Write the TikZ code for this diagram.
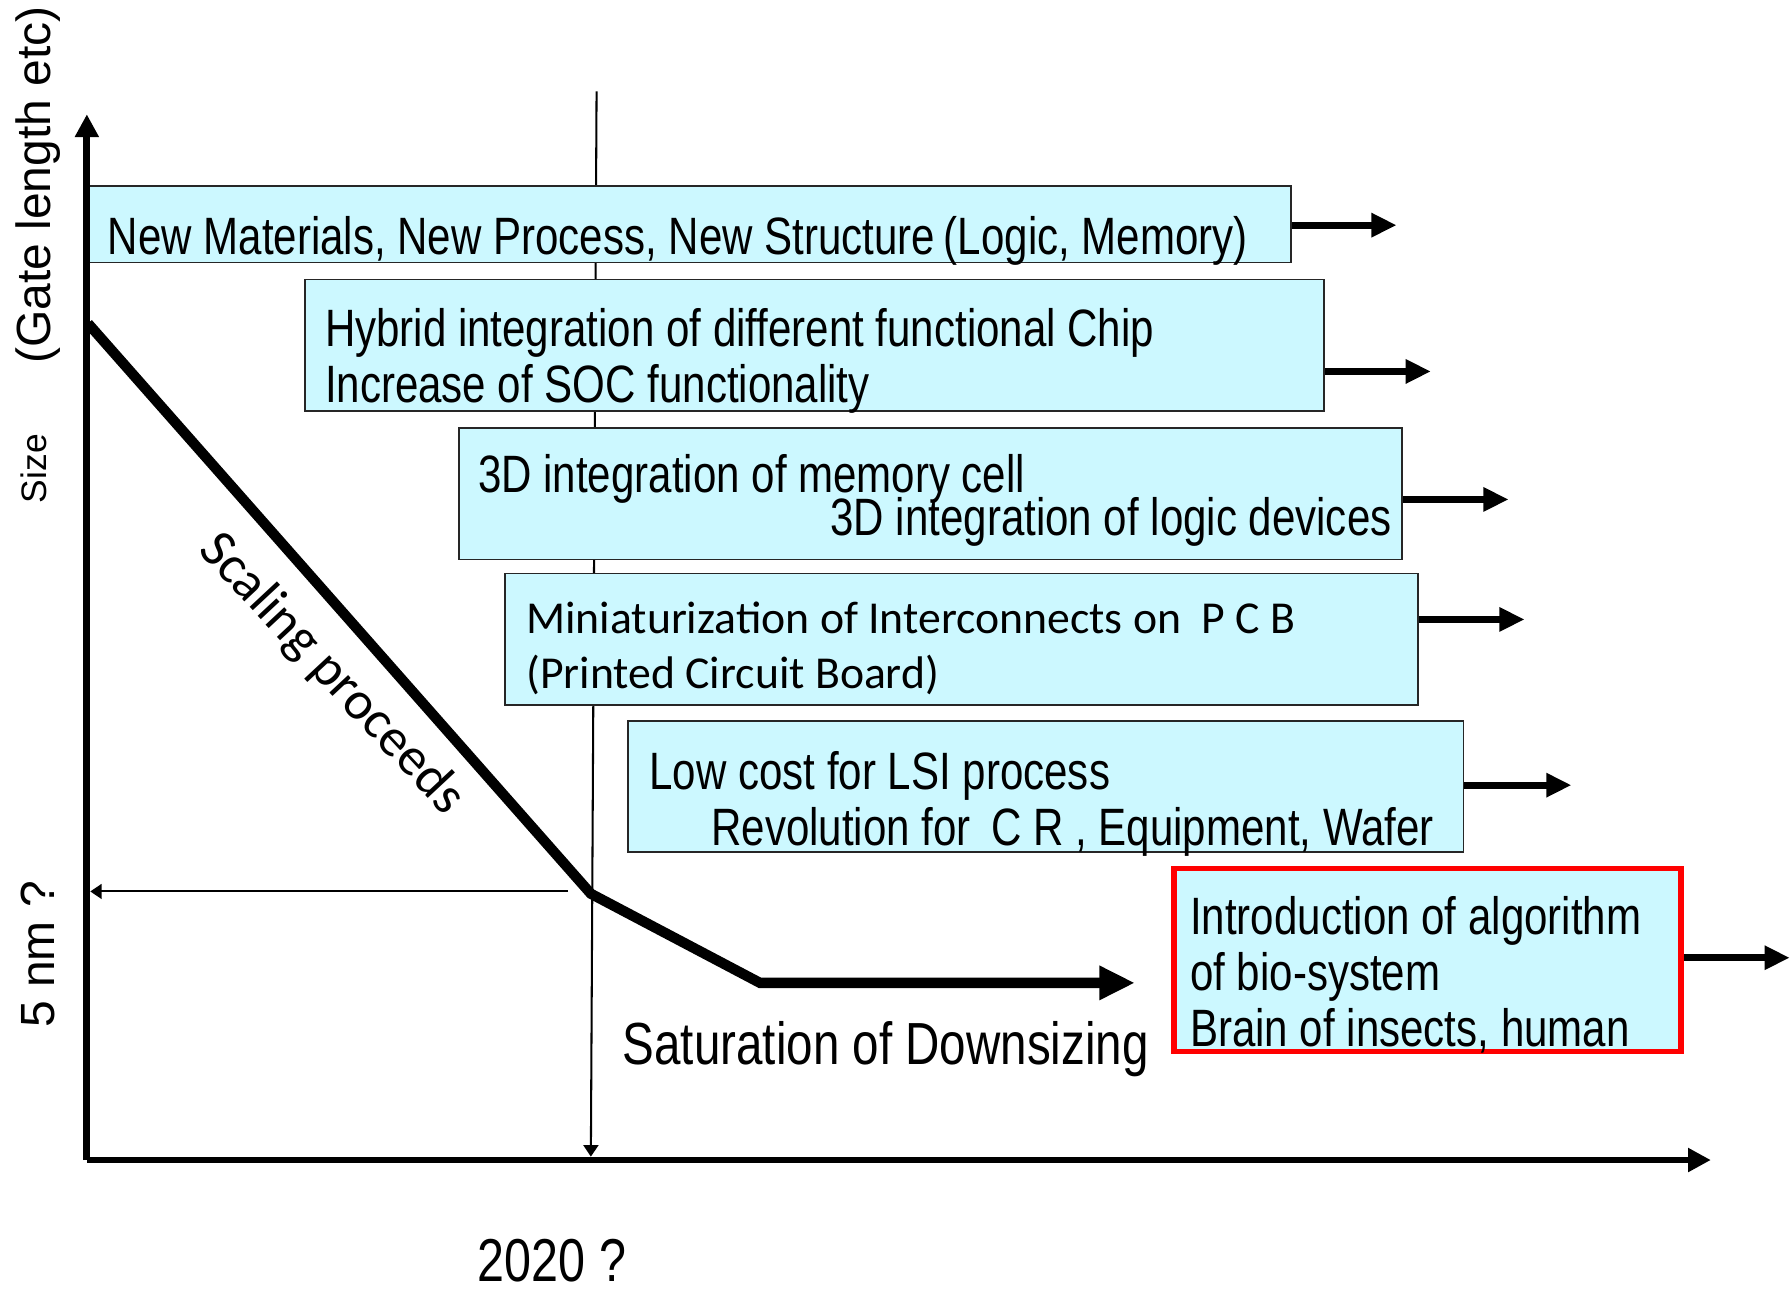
\documentclass[tikz,border=0pt]{standalone}
\usepackage{fontspec}
\setmainfont{Liberation Sans}[FakeStretch=0.80]
\newfontfamily\widefont{Liberation Sans}
\newfontfamily\calfont{Carlito}
\usetikzlibrary{arrows.meta,positioning}
\definecolor{boxcyan}{HTML}{CCF8FF}
\definecolor{frred}{HTML}{FF0000}

\begin{document}
\begin{tikzpicture}[x=0.5pt,y=-0.5pt,
    box/.style={draw=black!85,line width=0.7pt,fill=boxcyan,inner sep=0pt,anchor=north west},
    txt/.style={inner sep=0pt,align=left,font=\fontsize{23}{24.5}\selectfont},
    outarrow/.style={-{Triangle[length=11pt,width=10pt]},line width=3pt},
    axis/.style={-{Triangle[length=10pt,width=10pt]},line width=3pt},
    thinarrow/.style={-{Triangle[length=5pt,width=6.5pt]},line width=0.9pt}]
  \useasboundingbox (0,0) rectangle (1568,1132);
  % frame of the plot
  \coordinate (O) at (76,1015);
  \coordinate (ytop) at (76,100);
  \coordinate (xend) at (1497,1015);
  \coordinate (ytop2020) at (522,80);
  \coordinate (x2020) at (517,1012);
  \coordinate (knee) at (517,782);
  \coordinate (knee5) at (497,780);
  \coordinate (y5nm) at (79,780);
  \draw[thinarrow] (ytop2020) -- (x2020);
  % roadmap boxes
  \node[box,minimum width=526.5pt,minimum height=33.5pt] (b1) at (76,162) {};
  \node[box,minimum width=446pt,minimum height=57.5pt] (b2) at (266,244) {};
  \node[box,minimum width=412.5pt,minimum height=57.5pt] (b3) at (401,374) {};
  \node[box,minimum width=399.5pt,minimum height=57.5pt] (b4) at (441,501) {};
  \node[box,minimum width=365.5pt,minimum height=57.5pt] (b5) at (549,630) {};
  \node[box,draw=frred,line width=2.5pt,minimum width=222pt,minimum height=80pt] (b6) at (1024.5,757.5) {};
  \node[txt,anchor=west] (t1) at (94,211) {New Materials, New Process, New Structure\,(Logic, Memory)};
  \node[txt,anchor=west] (t2) at (284,316) {Hybrid integration of different functional Chip\\Increase of SOC functionality};
  \node[txt,anchor=west] (t3a) at (418,419) {3D integration of memory cell};
  \node[txt,anchor=east] (t3b) at (1218,457) {3D integration of logic devices};
  \node[txt,anchor=west,font=\calfont\fontsize{20}{24}\selectfont] (t4) at (460,567) {Miniaturization of Interconnects on\ \ P C B\\(Printed Circuit Board)};
  \node[txt,anchor=west] (t5) at (568,703) {Low cost for LSI process\\\hspace*{27pt}Revolution for\ \,C R , Equipment, Wafer};
  \node[txt,anchor=west] (t6) at (1041,853) {Introduction of algorithm\\of bio-system\\Brain of insects, human};
  % arrows out of the boxes
  \coordinate (e1) at (1222,197);
  \coordinate (e2) at (1252,325);
  \coordinate (e3) at (1320,437);
  \coordinate (e4) at (1334,542);
  \coordinate (e5) at (1375,687);
  \coordinate (e6) at (1566,838);
  \draw[outarrow] (b1.east |- e1) -- (e1);
  \draw[outarrow] (b2.east |- e2) -- (e2);
  \draw[outarrow] (b3.east |- e3) -- (e3);
  \draw[outarrow] (b4.east |- e4) -- (e4);
  \draw[outarrow] (b5.east |- e5) -- (e5);
  \draw[outarrow] (b6.east |- e6) -- (e6);
  % axes
  \draw[axis] (O) -- (ytop);
  \draw[axis] (O) -- (xend);
  \draw[thinarrow] (knee5) -- (y5nm);
  % scaling curve
  \coordinate (s0) at (77,283);
  \coordinate (s2) at (665,860);
  \coordinate (s3) at (993,860);
  \draw[line width=4.5pt,-{Triangle[length=15.5pt,width=14pt]}] (s0) -- (knee) -- (s2) -- (s3);
  % labels
  \node[txt,font=\fontsize{26}{28}\selectfont] (sat) at (775,918) {Saturation of Downsizing};
  \node[txt,font=\fontsize{26.5}{28}\selectfont] (yr) at (483,1103) {2020 ?};
  \node[inner sep=0pt,font=\calfont\fontsize{23.5}{24}\selectfont,rotate=-47] (scl) at (290,590) {Scaling proceeds};
  \node[inner sep=0pt,font=\widefont\fontsize{21}{21}\selectfont,rotate=90] (ylab) at (33,162) {(Gate length etc)};
  \node[inner sep=0pt,font=\widefont\fontsize{15.5}{16}\selectfont,rotate=90] (ysz) at (30,410) {Size};
  \node[inner sep=0pt,font=\widefont\fontsize{21}{21}\selectfont,rotate=90] (y5) at (33,835) {5 nm ?};
\end{tikzpicture}
\end{document}
